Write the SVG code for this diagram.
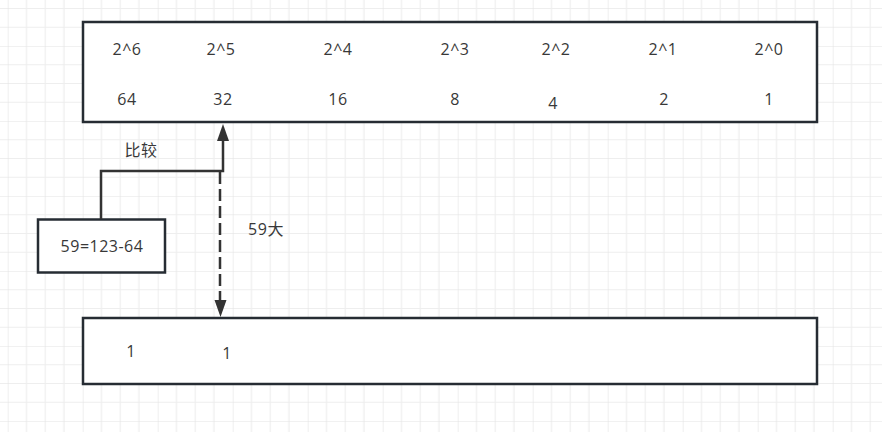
<svg xmlns="http://www.w3.org/2000/svg" width="882" height="432" viewBox="0 0 882 432">
<defs>
<pattern id="grid" x="7.7" y="-29" width="75" height="75" patternUnits="userSpaceOnUse">
<path d="M18.75 0V75M37.5 0V75M56.25 0V75M0 18.75H75M0 37.5H75M0 56.25H75" stroke="#eeeeee" stroke-width="1.2" fill="none"/>
<path d="M0 0V75M0 0H75" stroke="#e4e4e4" stroke-width="1.2" fill="none"/>
</pattern>
</defs>
<style>
.box{fill:#fff;stroke:#262c33;stroke-width:2.5}
.t{font-family:"Open Sans","Noto Sans CJK SC",sans-serif;font-size:16px;letter-spacing:0.5px;fill:#383838;text-anchor:middle}
.c{fill:none;stroke:#333;stroke-width:2.5}
.h{fill:#333}
</style>
<rect width="882" height="432" fill="#fff"/>
<rect width="882" height="432" fill="url(#grid)"/>
<g id="top">
<rect class="box" x="83" y="22" width="734" height="100"/>
<text class="t" x="127" y="55">2^6</text>
<text class="t" x="221" y="55">2^5</text>
<text class="t" x="338" y="55">2^4</text>
<text class="t" x="455" y="55">2^3</text>
<text class="t" x="556" y="55">2^2</text>
<text class="t" x="663" y="55">2^1</text>
<text class="t" x="769" y="55">2^0</text>
<text class="t" x="127" y="105">64</text>
<text class="t" x="223" y="105">32</text>
<text class="t" x="338" y="105">16</text>
<text class="t" x="455" y="105">8</text>
<text class="t" x="553" y="109">4</text>
<text class="t" x="664" y="105">2</text>
<text class="t" x="769" y="105">1</text>
</g>
<g id="bottom">
<rect class="box" x="83" y="318" width="734" height="66"/>
<text class="t" x="131" y="357">1</text>
<text class="t" x="227" y="359">1</text>
</g>
<g id="calc">
<rect class="box" x="38" y="219.5" width="127" height="53"/>
<text class="t" x="102" y="252">59=123-64</text>
</g>
<g id="connectors">
<path class="c" d="M101 219V171H223V140"/>
<path class="h" d="M217 141L223 124L229 141Z"/>
<path class="c" d="M220 172V300" stroke-dasharray="12 5"/>
<path class="h" d="M214.5 300L220.5 317L226.5 300Z"/>
<text class="t" x="141" y="156">比较</text>
<text class="t" x="266" y="235">59大</text>
</g>
</svg>
